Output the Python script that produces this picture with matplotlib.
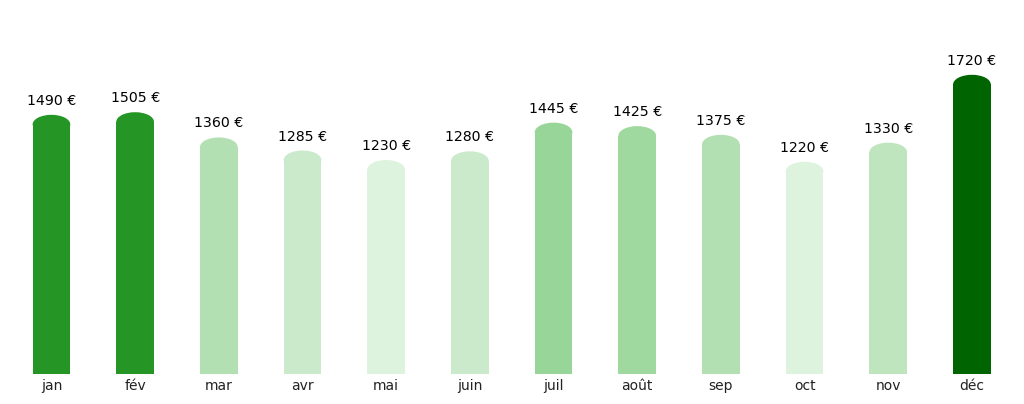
import matplotlib
matplotlib.use("Agg")
import matplotlib.pyplot as plt
from matplotlib.patches import Ellipse, Rectangle

months = ["jan", "fév", "mar", "avr", "mai", "juin", "juil", "août", "sep", "oct", "nov", "déc"]
values = [1490, 1505, 1360, 1285, 1230, 1280, 1445, 1425, 1375, 1220, 1330, 1720]
colors = ["#259525", "#259525", "#b3e0b3", "#cbeacb", "#ddf3dd", "#cbeacb",
          "#98d598", "#a0d9a0", "#b2e0b2", "#ddf3dd", "#bee5be", "#006400"]

fig = plt.figure(figsize=(10.24, 4.04), dpi=100)
ax = fig.add_axes([0, 30 / 404, 1, 374 / 404])
ymax = 2150
ax.set_xlim(-0.615, 11.622)
ax.set_ylim(0, ymax)

width = 0.45
cap = 55  # half-height of rounded top in data units

for i, (v, c) in enumerate(zip(values, colors)):
    ax.add_patch(Rectangle((i - width / 2, 0), width, v - cap, facecolor=c, edgecolor="none"))
    ax.add_patch(Ellipse((i, v - cap), width, 2 * cap, facecolor=c, edgecolor="none"))
    ax.annotate(f"{v} €", (i, v), xytext=(0, 5), textcoords="offset points",
                ha="center", va="bottom", fontsize=10.2, color="#000000")

ax.set_xticks(range(len(months)))
ax.set_xticklabels(months, fontsize=10, color="#222222")
ax.tick_params(axis="x", length=0)
ax.set_yticks([])
for s in ax.spines.values():
    s.set_visible(False)

fig.savefig("out.png", dpi=100)
